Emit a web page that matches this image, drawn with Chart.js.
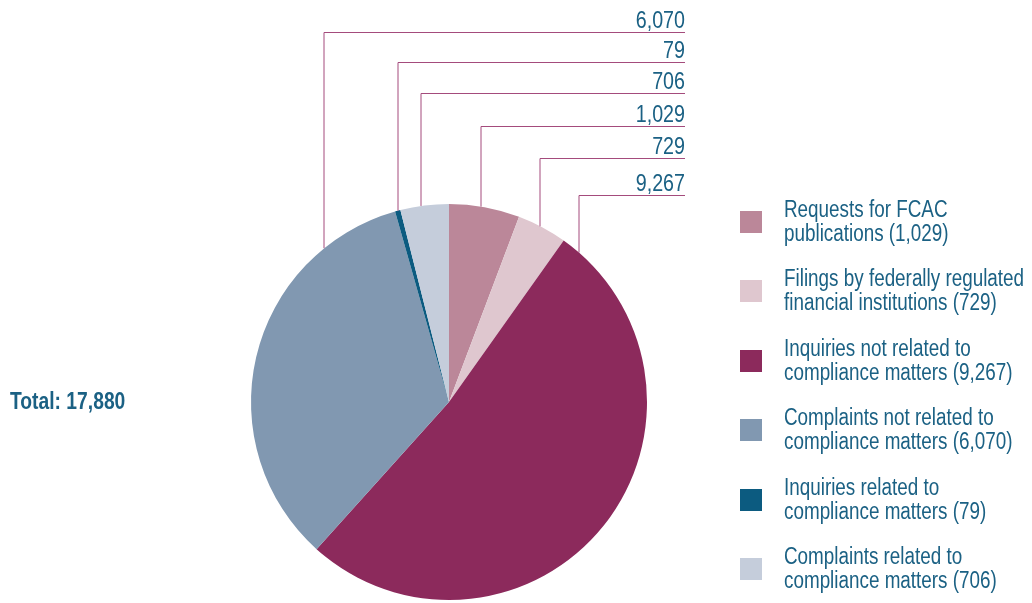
<!DOCTYPE html>
<html>
<head>
<meta charset="utf-8">
<script src="https://cdn.jsdelivr.net/npm/chart.js@4/dist/chart.umd.min.js"></script>
<style>
    html, body { margin: 0; padding: 0; background: #ffffff; }
    #wrap { position: relative; width: 1032px; height: 603px; }
</style>
</head>
<body>
<div id="wrap"><canvas id="contacts" width="1032" height="603"></canvas></div>
<script>
const categories = [
    "Requests for FCAC|publications",
    "Filings by federally regulated|financial institutions",
    "Inquiries not related to|compliance matters",
    "Complaints not related to|compliance matters",
    "Inquiries related to|compliance matters",
    "Complaints related to|compliance matters"
]
const contactCounts = [1029, 729, 9267, 6070, 79, 706]
const valueLabels = ["1,029", "729", "9,267", "6,070", "79", "706"]
const totalLabel = "Total: 17,880"

const sliceColors = ["#bb8799", "#dfc7cf", "#8c2a5c", "#8198b1", "#0c5b80", "#c5cddb"]
const textColor = "#1b6184"
const leaderColor = "#a44b7c"
const font = "'Liberation Sans', Arial, sans-serif"
const squeeze = 0.82   // condensed look for the labels

// where along each slice the leader line leaves the edge, and which row it joins
const leaderFrac = [0.45, 0.46, 0.03, 0.81, 0.5, 0.43]
const leaderRow = [3, 4, 5, 0, 1, 2]
const rowY = [32, 62, 93, 126, 158, 195]
const leaderEndX = 685

const drawNarrowText = (ctx, text, x, y, align) => {
    ctx.save()
    ctx.translate(x, y)
    ctx.scale(squeeze, 1)
    ctx.textAlign = align
    ctx.fillText(text, 0, 0)
    ctx.restore()
}

const calloutPlugin = {
    id: "callouts",
    afterDraw(chart) {
        const ctx = chart.ctx
        const arcs = chart.getDatasetMeta(0).data
        ctx.save()

        // leader lines and value labels
        arcs.forEach((arc, i) => {
            const a = arc.startAngle + (arc.endAngle - arc.startAngle) * leaderFrac[i]
            const r = arc.outerRadius
            const x = Math.round(arc.x + r * Math.cos(a))
            const y = arc.y + r * Math.sin(a)
            const ry = rowY[leaderRow[i]] + 0.5
            ctx.strokeStyle = leaderColor
            ctx.lineWidth = 1
            ctx.beginPath()
            ctx.moveTo(x, y)
            ctx.lineTo(x, ry)
            ctx.lineTo(leaderEndX, ry)
            ctx.stroke()

            ctx.fillStyle = textColor
            ctx.font = "24px " + font
            ctx.textBaseline = "alphabetic"
            drawNarrowText(ctx, valueLabels[i], leaderEndX, ry - 5, "right")
        })

        // legend on the right
        categories.forEach((cat, i) => {
            const cy = 222 + i * 69.4
            ctx.fillStyle = sliceColors[i]
            ctx.fillRect(740, Math.round(cy - 11), 22, 22)
            const lines = cat.split("|")
            lines[lines.length - 1] += " (" + valueLabels[i] + ")"
            ctx.fillStyle = textColor
            ctx.font = "23px " + font
            ctx.textBaseline = "alphabetic"
            drawNarrowText(ctx, lines[0], 784, cy - 5, "left")
            drawNarrowText(ctx, lines[1], 784, cy + 19, "left")
        })

        // total
        ctx.font = "bold 23.5px " + font
        ctx.textBaseline = "alphabetic"
        ctx.fillStyle = textColor
        drawNarrowText(ctx, totalLabel, 10, 409, "left")
        ctx.restore()
    }
}

const contactsCtx = document.getElementById("contacts").getContext("2d")

const config = {
    type: "pie",
    data: {
        labels: categories.map(c => c.replace("|", " ")),
        datasets: [{
            data: contactCounts,
            backgroundColor: sliceColors,
            borderWidth: 0
        }]
    },
    options: {
        responsive: false,
        animation: false,
        layout: { padding: { left: 251, right: 385, top: 204, bottom: 3 } },
        plugins: {
            legend: { display: false },
            tooltip: { enabled: false }
        }
    },
    plugins: [calloutPlugin]
}

const contactsChart = new Chart(contactsCtx, config)
</script>
</body>
</html>
